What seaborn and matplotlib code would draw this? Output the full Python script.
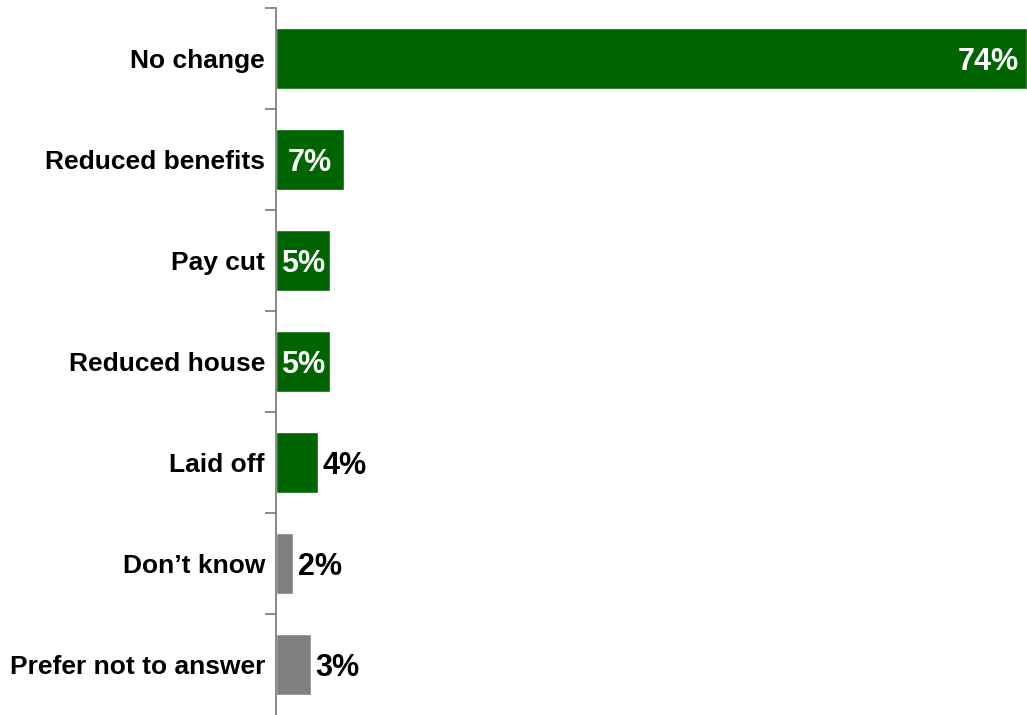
import matplotlib
matplotlib.use("Agg")
import matplotlib.pyplot as plt
import seaborn as sns
import pandas as pd
import numpy as np

categories = ["No change", "Reduced benefits", "Pay cut", "Reduced house",
              "Laid off", "Don\u2019t know", "Prefer not to answer"]
values = [74, 6.7, 5.3, 5.3, 4.1, 1.7, 3.4]
labels = ["74%", "7%", "5%", "5%", "4%", "2%", "3%"]
groups = ["g", "g", "g", "g", "g", "n", "n"]

sns.set_theme(style="white")
plt.rcParams["font.family"] = ["Liberation Sans", "DejaVu Sans"]

df = pd.DataFrame({"cat": categories, "val": values, "grp": groups})
palette = {"g": "#006400", "n": "#808080"}

fig = plt.figure(figsize=(10.27, 7.15), dpi=100)
ax = fig.add_axes([276 / 1027, 0.0, 1 - 276 / 1027, 1 - 8 / 715])
sns.barplot(data=df, y="cat", x="val", hue="grp", palette=palette, dodge=False,
            width=0.6, legend=False, ax=ax, saturation=1)

ax.set_xlim(0, 74)
ax.set_ylim(len(categories) - 0.5, -0.5)
ax.set_xlabel("")
ax.set_ylabel("")
ax.set_xticks([])
for s in ["top", "right", "bottom"]:
    ax.spines[s].set_visible(False)
ax.spines["left"].set_color("#808080")
ax.spines["left"].set_linewidth(1.3)

ax.tick_params(axis="y", which="major", length=0, pad=8)
ax.set_yticks(np.arange(-0.5, len(categories) - 1, 1), minor=True)
ax.tick_params(axis="y", which="minor", length=8, color="#808080", width=1.3, left=True)
for t in ax.get_yticklabels():
    t.set_fontsize(19)
    t.set_fontweight("bold")
    t.set_color("black")

dy = 0.03
for i, (v, lab, g) in enumerate(zip(values, labels, groups)):
    if i == 0:
        ax.text(v - 0.8, i + dy, lab, ha="right", va="center", color="white",
                fontsize=22, fontweight="bold")
    elif g == "g" and v >= 5:
        ax.text(v / 2, i + dy, lab, ha="center", va="center", color="white",
                fontsize=22, fontweight="bold")
    else:
        ax.text(v + 0.45, i + dy, lab, ha="left", va="center", color="black",
                fontsize=22, fontweight="bold")

fig.savefig("out.png", dpi=100)
